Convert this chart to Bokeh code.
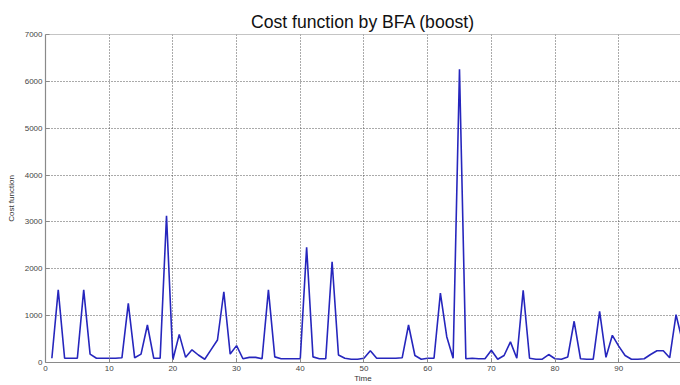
from bokeh.plotting import figure
from bokeh.models import Range1d, FixedTicker, Span
from bokeh.embed import file_html
from bokeh.resources import INLINE

time = list(range(1, 101))
cost = [
    90, 1550, 90, 90, 90, 1550, 180, 90, 90, 90,
    90, 100, 1260, 100, 180, 800, 90, 90, 3130, 60,
    600, 110, 270, 160, 70, 275, 480, 1510, 180, 360,
    80, 110, 110, 80, 1550, 120, 80, 80, 80, 80,
    2460, 120, 80, 80, 2150, 160, 90, 70, 70, 90,
    250, 90, 90, 90, 90, 100, 800, 150, 70, 90,
    90, 1480, 550, 90, 6260, 80, 90, 80, 80, 260,
    70, 150, 440, 90, 1540, 90, 70, 70, 170, 80,
    70, 120, 880, 80, 70, 70, 1090, 110, 580, 350,
    150, 70, 70, 80, 170, 250, 250, 100, 1020, 450,
]
x_ticks = [0, 10, 20, 30, 40, 50, 60, 70, 80, 90, 100]
y_ticks = [0, 1000, 2000, 3000, 4000, 5000, 6000, 7000]

p = figure(width=680, height=385, output_backend="svg", toolbar_location=None,
           x_range=Range1d(0, 99.7), y_range=Range1d(0, 7000),
           title="Cost function by BFA (boost)",
           min_border_left=45, min_border_right=0, min_border_top=34, min_border_bottom=20)

p.title.align = "center"
p.title.text_font = "Liberation Sans"
p.title.text_font_size = "17.6px"
p.title.text_font_style = "normal"
p.title.text_color = "#111111"
p.title.standoff = 5
p.title.offset = 0

p.line(time, cost, line_color="#2626bd", line_width=1.6)

p.outline_line_color = None
p.add_layout(Span(location=7000, dimension="width", line_color="#8a8a8a", line_width=1.2))

for ax in (p.xaxis[0], p.yaxis[0]):
    ax.axis_line_color = "#8a8a8a"
    ax.axis_line_width = 1.2
    ax.major_tick_in = 4
    ax.major_tick_out = 0
    ax.major_tick_line_color = "#8a8a8a"
    ax.minor_tick_line_color = None
    ax.major_label_text_font = "Liberation Sans"
    ax.major_label_text_font_size = "8px"
    ax.major_label_text_color = "#444444"
    ax.major_label_standoff = 3
    ax.axis_label_text_font = "Liberation Sans"
    ax.axis_label_text_font_size = "8px"
    ax.axis_label_text_font_style = "normal"
    ax.axis_label_text_color = "#333333"

p.xaxis.ticker = FixedTicker(ticks=x_ticks)
p.yaxis.ticker = FixedTicker(ticks=y_ticks)
p.yaxis.axis_label = "Cost function"
p.yaxis.axis_label_standoff = 6
p.xaxis.axis_label = "Time"
p.xaxis.axis_label_standoff = 0

p.xgrid.ticker = FixedTicker(ticks=x_ticks)
p.ygrid.ticker = FixedTicker(ticks=y_ticks)
for g in (p.xgrid[0], p.ygrid[0]):
    g.grid_line_color = "#444444"
    g.grid_line_dash = "1 2"
    g.grid_line_width = 1
    g.grid_line_alpha = 0.9

p.background_fill_color = "white"
p.border_fill_color = "white"

open("out.html", "w").write(file_html(p, INLINE))
